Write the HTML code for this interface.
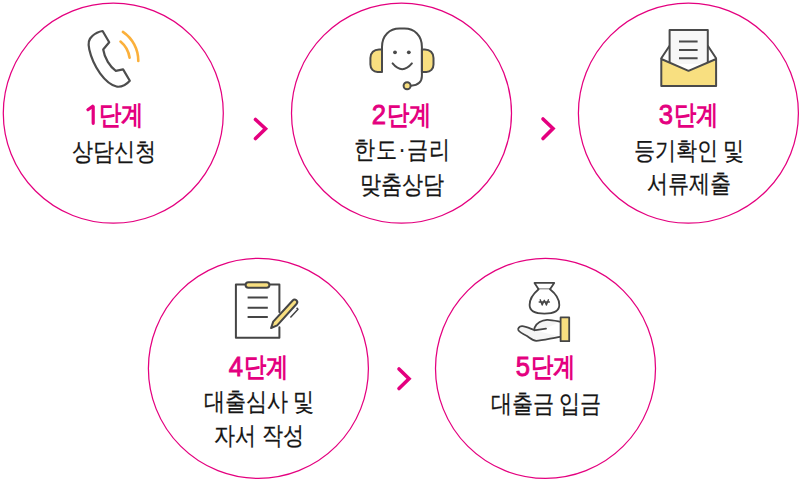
<!DOCTYPE html>
<html lang="ko">
<head>
<meta charset="utf-8">
<style>
html,body{margin:0;padding:0;background:#fff;}
body{width:802px;height:482px;position:relative;overflow:hidden;font-family:"Liberation Sans",sans-serif;}
svg.bg{position:absolute;left:0;top:0;}
.t{position:absolute;width:220px;text-align:center;white-space:nowrap;}
.h{font-weight:bold;color:#e4007f;height:30px;}
.dg{display:inline-block;font-size:28.5px;line-height:30px;vertical-align:top;margin-right:0px;margin-left:0px;position:relative;top:-1.9px;transform:scaleX(0.9);transform-origin:50% 50%;font-weight:normal;-webkit-text-stroke:0.9px #e4007f;}
.one{color:transparent;-webkit-text-stroke:0;width:9px;}
.hg{display:inline-block;font-size:22.3px;line-height:30px;vertical-align:top;transform:scaleY(1.207);transform-origin:50% 0;position:relative;top:-4px;}
.d{color:#151515;-webkit-text-stroke:0.2px #151515;font-size:21.2px;line-height:26px;transform:scaleY(1.185);transform-origin:50% 0;}
</style>
</head>
<body>
<svg class="bg" width="802" height="482" viewBox="0 0 802 482">
  <g fill="none" stroke="#e4007f" stroke-width="1.25">
    <circle cx="113.3" cy="113.2" r="110"/>
    <circle cx="401.5" cy="113.2" r="110"/>
    <circle cx="688.4" cy="113.2" r="110"/>
    <circle cx="258.4" cy="368.4" r="110"/>
    <circle cx="545.5" cy="368.4" r="110"/>
  </g>
  <g fill="none" stroke="#e4007f" stroke-width="3.6" stroke-linecap="round" stroke-linejoin="miter">
    <polyline points="255.5,119.5 265.5,128.8 255.5,138.5"/>
    <polyline points="543,119 553,128.5 543,138.5"/>
    <polyline points="399,369 409,378.7 399,388.5"/>
  </g>
  <!-- phone -->
  <g fill="none" stroke-linecap="round" stroke-linejoin="round">
    <path d="M102.6,31 L109.2,42.3 L103.2,49.5 C104.5,58 110,67 115.8,70.8 L123.1,69.4 L129.8,80.7 C126,85 121,87 117.2,86.7 C105,84 93,66 89.3,49.5 C88,44 88.5,39 92,36.3 C95,33.5 99,31.5 102.6,31 Z" stroke="#4d4d4d" stroke-width="2.2"/>
    <path d="M122.9,31.9 A35,35 0 0 1 138.3,60.9" stroke="#fbb03b" stroke-width="2.6"/>
    <path d="M120.5,41.6 A26,26 0 0 1 129.6,57.8" stroke="#fbb03b" stroke-width="2.6"/>
  </g>
  <!-- headset -->
  <g stroke="#4a4a4a" stroke-width="2" stroke-linecap="round" stroke-linejoin="round">
    <path d="M382,49.4 L379,49.4 C374,49.4 370.4,53 370.4,58 L370.4,64.5 C370.4,69 373.5,71.9 377.5,71.9 L382,71.9 Z" fill="#f8df80"/>
    <path d="M421.9,49.4 L424.9,49.4 C429.9,49.4 433.5,53 433.5,58 L433.5,64.5 C433.5,69 430.4,71.9 426.4,71.9 L421.9,71.9 Z" fill="#f8df80"/>
    <path d="M382,71.2 L382,47 C382,35.5 389.5,28.6 399.5,28.6 L404.5,28.6 C414.5,28.6 421.9,35.5 421.9,47 L421.9,76 C421.9,81.5 418,85.2 411,85.7" fill="none"/>
    <path d="M392.6,63.4 Q402.2,75 411.9,63.4" fill="none"/>
    <circle cx="407.1" cy="85.7" r="3.5" fill="#f8df80"/>
  </g>
  <circle cx="395" cy="52.3" r="1.9" fill="#4a4a4a"/>
  <circle cx="408.8" cy="52.3" r="1.9" fill="#4a4a4a"/>
  <!-- envelope -->
  <g stroke="#4a4a4a" stroke-width="2" stroke-linejoin="round" stroke-linecap="round">
    <path d="M661.3,58.3 L669.6,45.8 M716.1,58.3 L707.8,45.8" fill="none"/>
    <path d="M669.6,64 L669.6,29.9 L707.8,29.9 L707.8,64" fill="#f7f7f7"/>
    <path d="M679,41.4 L697.6,41.4 M679,50 L697.6,50 M679,58.3 L697.6,58.3" fill="none" stroke-linecap="butt"/>
    <path d="M661.3,59 L688.5,70.8 L716.1,59 L716.1,86.1 L661.3,86.1 Z" fill="#f8df80"/>
  </g>
  <!-- clipboard -->
  <g stroke="#454545" stroke-width="2" stroke-linejoin="round" stroke-linecap="round">
    <path d="M279.4,312 L279.4,284.6 L235.9,284.6 L235.9,337.8 L279.4,337.8 L279.4,327.2" fill="none"/>
    <rect x="245.6" y="282.2" width="23.8" height="5.6" rx="2.8" fill="#f8df80"/>
    <path d="M247.6,297.6 L267.8,297.6 M247.6,307.8 L267.8,307.8 M247.6,317.1 L267.8,317.1" fill="none" stroke-linecap="butt"/>
    <path d="M271.1,328 L273.2,321.6 L292.7,300.5 A2.5,2.5 0 0 1 296.5,304 L277.2,325.4 Z" fill="#f8df80"/>
    <path d="M290.4,317.4 L298,309.2 L296.6,307.9" fill="none" stroke-width="1.5" stroke-linecap="butt"/>
  </g>
  <!-- money bag + hand -->
  <g stroke="#454545" stroke-width="1.8" stroke-linejoin="round" stroke-linecap="round">
    <path d="M534.5,282.9 L554.2,282.9 L550,289.3 L538.6,289.3 Z" fill="#fff"/>
    <path d="M538.6,289.3 C533,294 529.6,299 529.6,305 C529.6,311.5 535,313.6 544.4,313.6 C553.8,313.6 559.3,311.5 559.3,305 C559.3,299 556,294 550,289.3" fill="#fff"/>
    <path d="M540.2,299.8 L542.2,305 L544.3,300.3 L546.4,305 L548.4,299.8 M539.2,302 L549.4,302" fill="none" stroke-width="1.4"/>
    <path d="M560,321.6 C555,320.6 550.5,319.6 547,319.8 C542,320.2 536.5,323 534.6,327.6 C534.2,329.3 534.6,330.2 535.8,330.1 L546,328.6 M534.8,330.3 C530,328.5 525,326 522,326.2 C519,326.5 517.8,328.2 518.3,330 C519,332 523,334 527,336 C530.5,338.2 533,340.6 536.2,340.8 C542,340.6 552,338 560,336.8" fill="#f5f5f5"/>
    <rect x="560.6" y="317.4" width="8.6" height="23.8" fill="#f8df80"/>
  </g>
  <g stroke="#e4007f" stroke-width="3.2" stroke-linecap="round" fill="none">
    <path d="M93.2,106.6 L93.2,123.3 M87.9,109.7 L92.7,106.3"/>
  </g>
  </svg>
<div class="t h" style="left:6.8px;top:101px"><span class="dg one">1</span><span class="hg">단계</span></div>
<div class="t h" style="left:291px;top:101px"><span class="dg">2</span><span class="hg">단계</span></div>
<div class="t h" style="left:578px;top:101px"><span class="dg">3</span><span class="hg">단계</span></div>
<div class="t h" style="left:148px;top:353px"><span class="dg">4</span><span class="hg">단계</span></div>
<div class="t h" style="left:435px;top:353px"><span class="dg">5</span><span class="hg">단계</span></div>
<div class="t d" style="left:4px;top:135.8px">상담신청</div>
<div class="t d" style="left:292px;top:134.4px;letter-spacing:1.2px;text-indent:1.2px">한도·금리</div>
<div class="t d" style="left:292px;top:168.5px">맞춤상담</div>
<div class="t d" style="left:579px;top:134.5px">등기확인 및</div>
<div class="t d" style="left:579px;top:168.4px">서류제출</div>
<div class="t d" style="left:149px;top:386.4px">대출심사 및</div>
<div class="t d" style="left:149px;top:419.8px">자서 작성</div>
<div class="t d" style="left:436px;top:388px">대출금 입금</div>
</body>
</html>
